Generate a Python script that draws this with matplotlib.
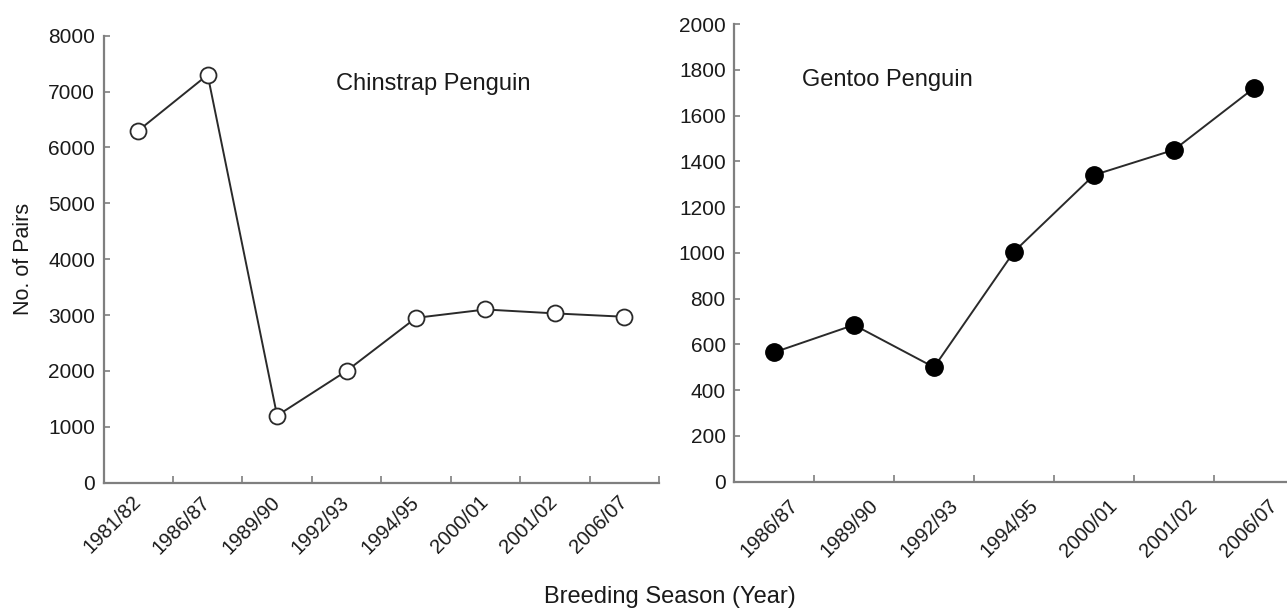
import matplotlib
matplotlib.use("Agg")
import matplotlib.pyplot as plt
from matplotlib.transforms import ScaledTranslation

plt.rcParams['font.family'] = ['Liberation Sans', 'DejaVu Sans']

chin_seasons = ["1981/82", "1986/87", "1989/90", "1992/93", "1994/95", "2000/01", "2001/02", "2006/07"]
chin_pairs = [6300, 7300, 1200, 2000, 2950, 3100, 3030, 2970]

gent_seasons = ["1986/87", "1989/90", "1992/93", "1994/95", "2000/01", "2001/02", "2006/07"]
gent_pairs = [565, 685, 500, 1005, 1340, 1450, 1720]

chin_yticks = [0, 1000, 2000, 3000, 4000, 5000, 6000, 7000, 8000]
gent_yticks = [0, 200, 400, 600, 800, 1000, 1200, 1400, 1600, 1800, 2000]

W, H = 1287, 610
fig = plt.figure(figsize=(W / 100, H / 100), dpi=100)

ax1 = fig.add_axes([103.5 / W, 1 - 482.7 / H, 555.5 / W, 447 / H])
ax2 = fig.add_axes([734 / W, 1 - 481.7 / H, 560 / W, 457.7 / H])

spine_col = "#7f7f7f"
text_col = "#1a1a1a"
line_col = "#2a2a2a"

def style(ax, n, labels, yticks, pad, dx_px):
    for s in ["top", "right"]:
        ax.spines[s].set_visible(False)
    for s in ["left", "bottom"]:
        ax.spines[s].set_color(spine_col)
        ax.spines[s].set_linewidth(1.6)
    ax.set_xlim(0, n)
    ax.set_ylim(yticks[0], yticks[-1])
    ax.set_yticks(yticks)
    ax.set_xticks(range(n + 1))
    ax.set_xticklabels([])
    ax.set_xticks([i + 0.5 for i in range(n)], minor=True)
    ax.set_xticklabels(labels, minor=True, rotation=45, ha="right", va="top",
                       rotation_mode="anchor", fontsize=14.5, color=text_col)
    ax.tick_params(axis="x", which="major", direction="in", length=5, width=1.2, color=spine_col)
    ax.tick_params(axis="x", which="minor", length=0, pad=pad)
    ax.tick_params(axis="y", direction="in", length=4, width=1.2, color=spine_col,
                   labelsize=15, labelcolor=text_col, pad=6)
    off = ScaledTranslation(dx_px / 100, 0, fig.dpi_scale_trans)
    for lab in ax.get_xticklabels(minor=True):
        lab.set_transform(lab.get_transform() + off)

x1 = [i + 0.5 for i in range(len(chin_seasons))]
ax1.plot(x1, chin_pairs, color=line_col, lw=1.4, marker="o", ms=11.5,
         mfc="white", mec=line_col, mew=1.3, clip_on=False, zorder=3)
style(ax1, len(chin_seasons), chin_seasons, chin_yticks, pad=7, dx_px=-7)
ax1.set_ylabel("No. of Pairs", fontsize=15.5, color=text_col, labelpad=10)
ax1.text(232 / 555.5, 0.893, "Chinstrap Penguin", transform=ax1.transAxes, fontsize=17,
         color=text_col, ha="left", va="center")

x2 = [i + 0.5 for i in range(len(gent_seasons))]
ax2.plot(x2, gent_pairs, color=line_col, lw=1.4, marker="o", ms=12.5,
         mfc="black", mec="black", clip_on=False, zorder=3)
style(ax2, len(gent_seasons), gent_seasons, gent_yticks, pad=10.5, dx_px=14)
ax2.text(68 / 560, 0.878, "Gentoo Penguin", transform=ax2.transAxes, fontsize=17,
         color=text_col, ha="left", va="center")

fig.text(670 / W, 1 - 597 / H, "Breeding Season (Year)", fontsize=17, color=text_col,
         ha="center", va="center")

fig.savefig("out.png", dpi=100)
